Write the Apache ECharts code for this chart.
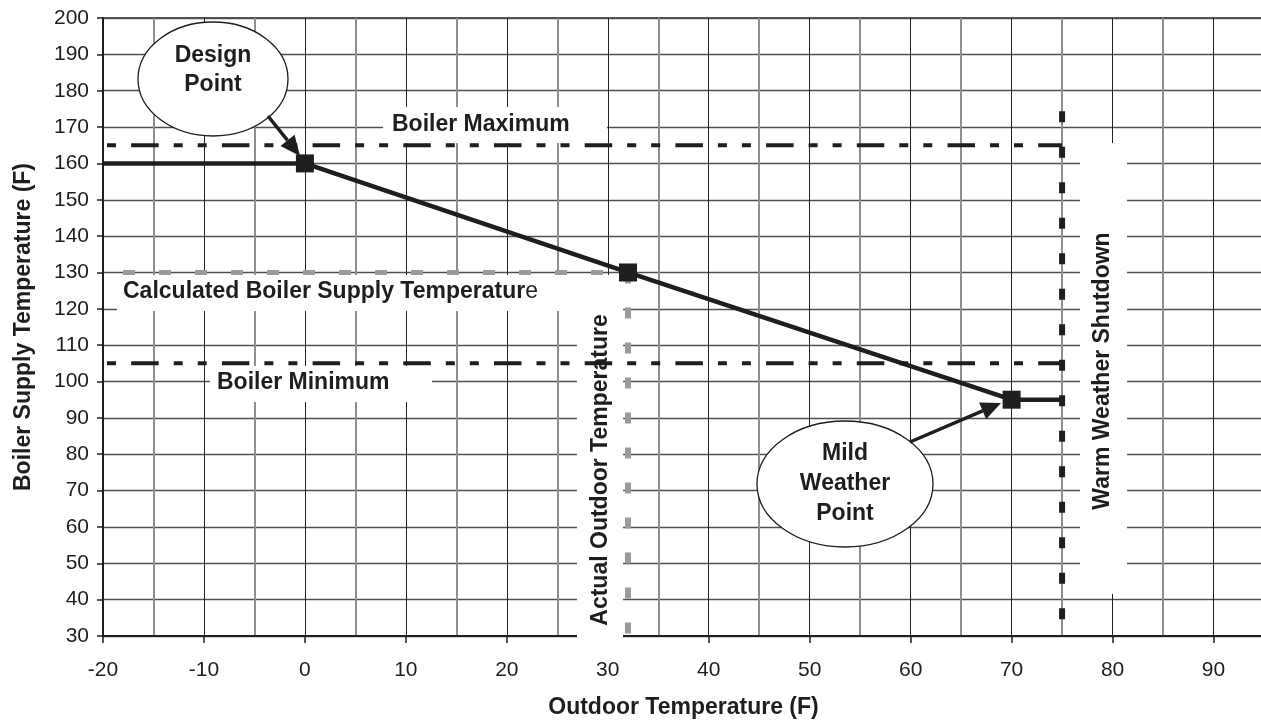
<!DOCTYPE html>
<html>
<head>
<meta charset="utf-8">
<title>Outdoor reset curve</title>
<script src="https://cdn.jsdelivr.net/npm/echarts@6/dist/echarts.min.js"></script>
<style>
  html, body { margin: 0; padding: 0; background: #fff; }
  #chart { width: 1261px; height: 721px; }
</style>
</head>
<body>
<div id="chart"></div>
<script>
// reset curve: outdoor temp (F) -> boiler supply temp (F)
const curveX = [-20, 0, 32, 70, 75];
const curveY = [160, 160, 130, 95, 95];
// design point, actual point, mild weather point
const pointX = [0, 32, 70];
const pointY = [160, 130, 95];
// limits
const boilerMax = 165;
const boilerMin = 105;
const limitSpan = [-20, 75];
// actual outdoor temp and the supply temp it gives
const actualOutdoor = 32;
const calcSupply = 130;
// warm weather shutdown
const shutdownX = 75;
const shutdownSpan = [180, 30];
// tick labels
const xTicks = [-20, -10, 0, 10, 20, 30, 40, 50, 60, 70, 80, 90];
const yTicks = [30, 40, 50, 60, 70, 80, 90, 100, 110, 120, 130, 140, 150, 160, 170, 180, 190, 200];

const ink = '#1e1e1e';
const font = '"Liberation Sans", Arial, sans-serif';
const boldFont = 'bold 23px ' + font;

const chart = echarts.init(document.getElementById('chart'));

function pairs(xs, ys) {
    return xs.map((x, i) => [x, ys[i]]);
}

// arrow = shaft + filled head
function arrow(x1, y1, x2, y2) {
    const a = Math.atan2(y2 - y1, x2 - x1);
    const len = 20, half = 9;
    const bx = x2 - len * Math.cos(a), by = y2 - len * Math.sin(a);
    const px = -Math.sin(a) * half, py = Math.cos(a) * half;
    return [
        { type: 'line', z: 20, shape: { x1: x1, y1: y1, x2: bx, y2: by }, style: { stroke: ink, lineWidth: 3.5 } },
        { type: 'polygon', z: 20, shape: { points: [[x2, y2], [bx + px, by + py], [bx - px, by - py]] }, style: { fill: ink } }
    ];
}

function whiteBox(x, y, w, h) {
    return { type: 'rect', z: 1, shape: { x: x, y: y, width: w, height: h }, style: { fill: '#fff' } };
}

function label(text, x, y, opts) {
    opts = opts || {};
    return {
        type: 'text', z: 21, x: x, y: y, rotation: opts.rotation || 0,
        style: {
            text: text, font: boldFont, fill: ink,
            align: opts.align || 'center', textAlign: opts.align || 'center',
            verticalAlign: 'middle', textVerticalAlign: 'middle',
            lineHeight: opts.lineHeight || 28,
            rich: opts.rich
        }
    };
}

function bubble(cx, cy, rx, ry) {
    return { type: 'ellipse', z: 19, shape: { cx: cx, cy: cy, rx: rx, ry: ry }, style: { fill: '#fff', stroke: ink, lineWidth: 1.3 } };
}

const graphics = [
    // boxes that blank the grid behind the notes
    whiteBox(383, 107, 224, 36),
    whiteBox(117, 275, 506, 36),
    whiteBox(577, 311, 46, 334),
    whiteBox(210, 366, 222, 36),
    whiteBox(1080, 143, 47, 451),

    label('Boiler Maximum', 392, 125, { align: 'left' }),
    label('{b|Calculated Boiler Supply Temperatur}{n|e}', 123, 292, {
        align: 'left',
        rich: { b: { font: boldFont, fill: ink }, n: { font: '23px ' + font, fill: ink } }
    }),
    label('Boiler Minimum', 217, 383, { align: 'left' }),
    label('Actual Outdoor Temperature', 601, 470, { rotation: Math.PI / 2 }),
    label('Warm Weather Shutdown', 1103, 371, { rotation: Math.PI / 2 }),

    bubble(213, 79, 75, 57),
    label('Design\nPoint', 213, 70, { lineHeight: 29 }),
    bubble(845, 484, 88, 63),
    label('Mild\nWeather\nPoint', 845, 484, { lineHeight: 30 })
].concat(arrow(268, 116, 300, 156), arrow(910, 442, 1001, 403));

const axisText = { color: ink, fontFamily: font, fontSize: 21 };

chart.setOption({
    animation: false,
    backgroundColor: '#fff',
    grid: {
        left: 103, top: 18, width: 1161, height: 618,
        outerBoundsMode: 'none', containLabel: false,
        show: true, borderColor: ink, borderWidth: 1.5
    },
    xAxis: [
        {
            type: 'value', min: -20, max: 95, interval: 10, position: 'bottom',
            name: 'Outdoor Temperature (F)', nameLocation: 'middle', nameGap: 60,
            nameTextStyle: { color: ink, fontFamily: font, fontSize: 23, fontWeight: 'bold' },
            axisLine: { show: true, onZero: false, lineStyle: { color: ink, width: 2 } },
            axisTick: { show: true, length: 7, customValues: xTicks, lineStyle: { color: ink, width: 1.5 } },
            axisLabel: Object.assign({ margin: 24, customValues: xTicks }, axisText),
            splitLine: { show: true, lineStyle: { color: '#222', width: 1 } }
        },
        {
            // only here for the gray 5-degree grid lines
            type: 'value', min: -20, max: 95, interval: 5, position: 'top',
            axisLine: { show: false }, axisTick: { show: false }, axisLabel: { show: false },
            splitLine: { show: true, lineStyle: { color: ['rgba(0,0,0,0)', '#8e8e8e'], width: 2 } }
        }
    ],
    yAxis: {
        type: 'value', min: 30, max: 200, interval: 10,
        name: 'Boiler Supply Temperature (F)', nameLocation: 'middle', nameGap: 68,
        nameTextStyle: { color: ink, fontFamily: font, fontSize: 23, fontWeight: 'bold' },
        axisLine: { show: true, onZero: false, lineStyle: { color: ink, width: 2 } },
        axisTick: { show: true, length: 6, customValues: yTicks, lineStyle: { color: ink, width: 1.5 } },
        axisLabel: Object.assign({ margin: 14, customValues: yTicks }, axisText),
        splitLine: { show: true, lineStyle: { color: '#4f4f4f', width: 1.3 } }
    },
    series: [
        {
            name: 'Boiler Maximum', type: 'line', symbol: 'none', z: 3,
            data: pairs(limitSpan, [boilerMax, boilerMax]),
            lineStyle: { color: ink, width: 4, type: [27.5, 15, 9, 15, 9, 15.2], dashOffset: 62.5, cap: 'butt' }
        },
        {
            name: 'Boiler Minimum', type: 'line', symbol: 'none', z: 3,
            data: pairs(limitSpan, [boilerMin, boilerMin]),
            lineStyle: { color: ink, width: 4, type: [27.5, 15, 9, 15, 9, 15.2], dashOffset: 62.5, cap: 'butt' }
        },
        {
            name: 'Calculated Boiler Supply Temperature', type: 'line', symbol: 'none', z: 3,
            data: pairs([limitSpan[0], actualOutdoor], [calcSupply, calcSupply]),
            lineStyle: { color: '#9a9a9a', width: 5, type: [12, 24], dashOffset: 16, cap: 'butt' }
        },
        {
            name: 'Actual Outdoor Temperature', type: 'line', symbol: 'none', z: 3,
            data: pairs([actualOutdoor, actualOutdoor], [calcSupply, 30]),
            lineStyle: { color: '#9a9a9a', width: 6, type: [11, 24], dashOffset: 0, cap: 'butt' }
        },
        {
            name: 'Warm Weather Shutdown', type: 'line', symbol: 'none', z: 3,
            data: pairs([shutdownX, shutdownX], shutdownSpan),
            lineStyle: { color: ink, width: 6, type: [11, 24.5], dashOffset: 15, cap: 'butt' }
        },
        {
            name: 'Reset Curve', type: 'line', symbol: 'none', z: 4,
            data: pairs(curveX, curveY),
            lineStyle: { color: ink, width: 4.5 }
        },
        {
            name: 'Points', type: 'scatter', symbol: 'rect', symbolSize: 18, z: 5,
            data: pairs(pointX, pointY),
            itemStyle: { color: ink, opacity: 1 }
        }
    ],
    graphic: { elements: graphics }
});
</script>
</body>
</html>
